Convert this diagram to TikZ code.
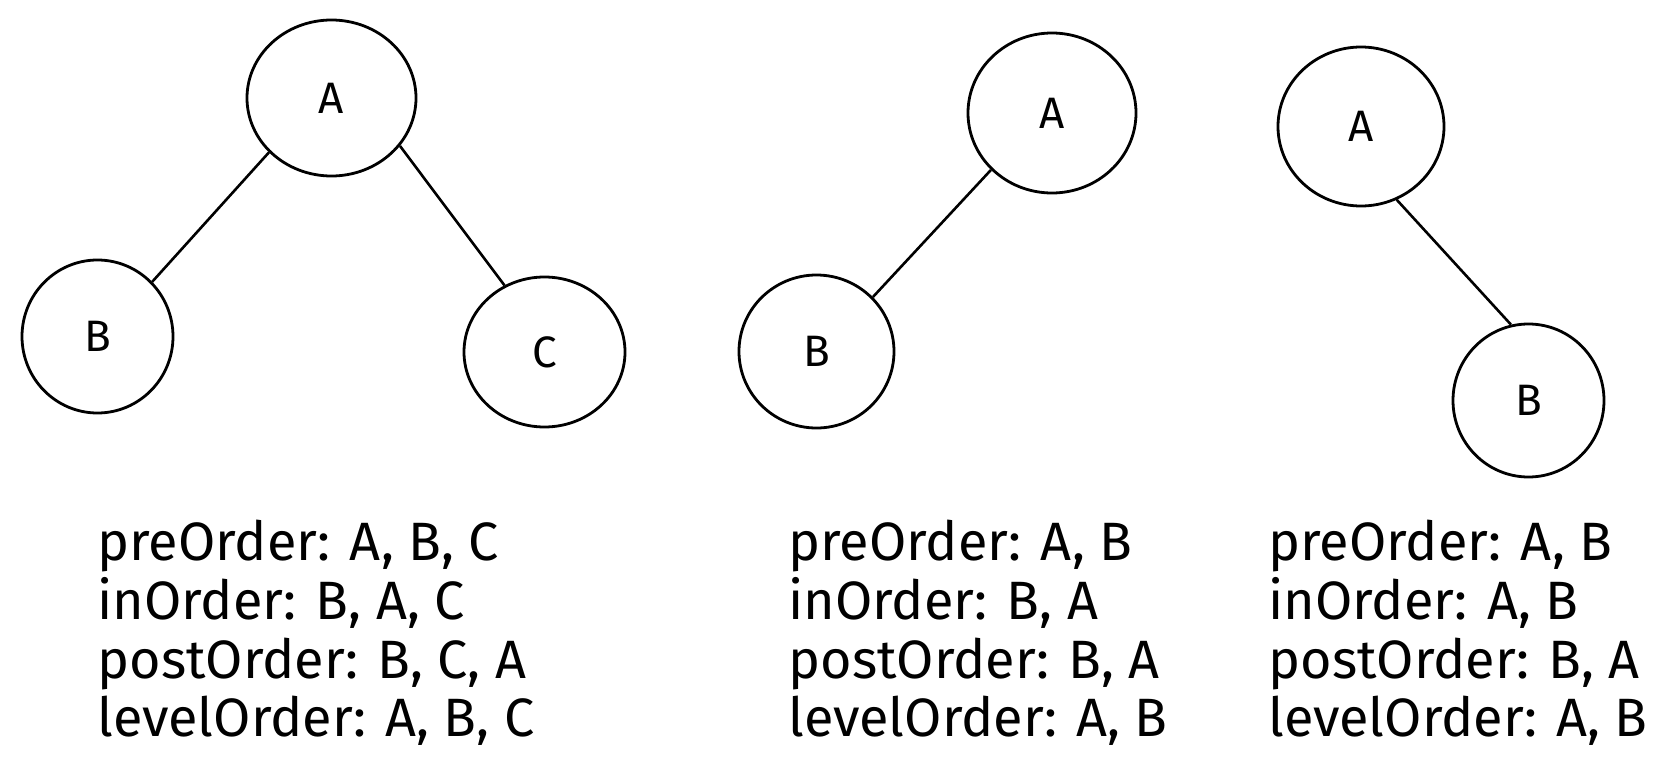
\documentclass[tikz,border=0pt]{standalone}
\usepackage{fontspec}
\setmainfont{Fira Sans}
\usetikzlibrary{shapes.geometric}
\begin{document}
\begin{tikzpicture}[x=0.5pt,y=-0.5pt,
  tnode/.style={ellipse,draw=black,line width=1.4pt,inner sep=0pt,font=\fontsize{22}{24}\selectfont},
  edge/.style={draw=black,line width=1.3pt},
  trav/.style={anchor=base west,inner sep=0pt,font=\fontsize{27}{29}\selectfont}]
\useasboundingbox (0,0) rectangle (1661,776);
% tree 1
\node[tnode,minimum width=84.5pt,minimum height=78pt] (a1) at (331.5,98) {A};
\node[tnode,minimum width=75.5pt,minimum height=76.5pt] (b1) at (97.5,336.5) {B};
\node[tnode,minimum width=80.5pt,minimum height=75pt] (c1) at (544.5,352) {C};
\draw[edge] (a1.221) -- (b1.45);
\draw[edge] (a1.325) -- (c1.121);
% tree 2
\node[tnode,minimum width=84pt,minimum height=80pt] (a2) at (1052,113) {A};
\node[tnode,minimum width=77.5pt,minimum height=76.5pt] (b2) at (816.5,351.5) {B};
\draw[edge] (a2.223) -- (b2.44);
% tree 3
\node[tnode,minimum width=83pt,minimum height=79.5pt] (a3) at (1361,126.5) {A};
\node[tnode,minimum width=75.5pt,minimum height=76.5pt] (b3) at (1528.5,400.5) {B};
\draw[edge] (a3.296) -- (b3.103);
% traversals, tree 1
\node[trav] (t1a) at (97,560) {preOrder: A, B, C};
\node[trav] (t1b) at (97,619) {inOrder: B, A, C};
\node[trav] (t1c) at (97,678) {postOrder: B, C, A};
\node[trav] (t1d) at (97,736) {levelOrder: A, B, C};
% tree 2
\node[trav] (t2a) at (788,560) {preOrder: A, B};
\node[trav] (t2b) at (788,619) {inOrder: B, A};
\node[trav] (t2c) at (788,678) {postOrder: B, A};
\node[trav] (t2d) at (788,736) {levelOrder: A, B};
% tree 3
\node[trav] (t3a) at (1268,560) {preOrder: A, B};
\node[trav] (t3b) at (1268,619) {inOrder: A, B};
\node[trav] (t3c) at (1268,678) {postOrder: B, A};
\node[trav] (t3d) at (1268,736) {levelOrder: A, B};
\end{tikzpicture}
\end{document}
